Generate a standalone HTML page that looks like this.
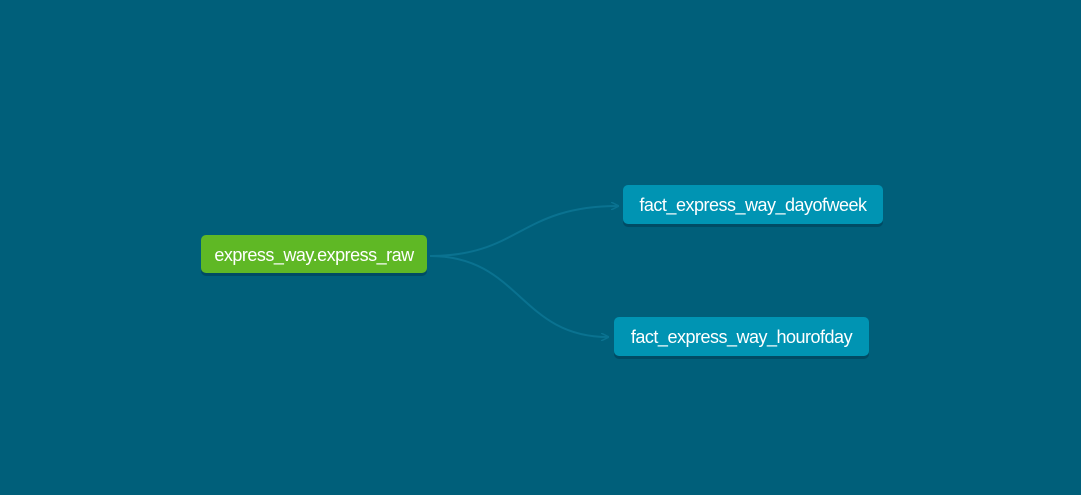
<!DOCTYPE html>
<html><head><style>
html,body{margin:0;padding:0;width:1081px;height:495px;background:#005f7a;overflow:hidden;font-family:"Liberation Sans",sans-serif;}
.n{position:absolute;color:#fff;font-size:18px;line-height:40px;text-align:center;border-radius:5px;box-shadow:0 3px 0 rgba(0,40,60,0.35);letter-spacing:-0.5px;white-space:nowrap}
.g{background:#5fb825;}
.b{background:#0094b3;}
</style></head><body>
<svg width="1081" height="495" style="position:absolute;left:0;top:0">
<defs><marker id="a" markerWidth="8" markerHeight="8" refX="7" refY="4" orient="auto" markerUnits="userSpaceOnUse"><path d="M0,0 L8,4 L0,8" fill="none" stroke="#0a7290" stroke-width="1.5"/></marker></defs>
<path d="M430,256 C520,256 520,206 618,206" fill="none" stroke="#0a7290" stroke-width="2" marker-end="url(#a)"/>
<path d="M430,256 C520,256 520,337 608,337" fill="none" stroke="#0a7290" stroke-width="2" marker-end="url(#a)"/>
</svg>
<div class="n g" style="left:201px;top:235px;width:226px;height:38px">express_way.express_raw</div>
<div class="n b" style="left:623px;top:185px;width:260px;height:39px">fact_express_way_dayofweek</div>
<div class="n b" style="left:614px;top:317px;width:255px;height:39px">fact_express_way_hourofday</div>
</body></html>
